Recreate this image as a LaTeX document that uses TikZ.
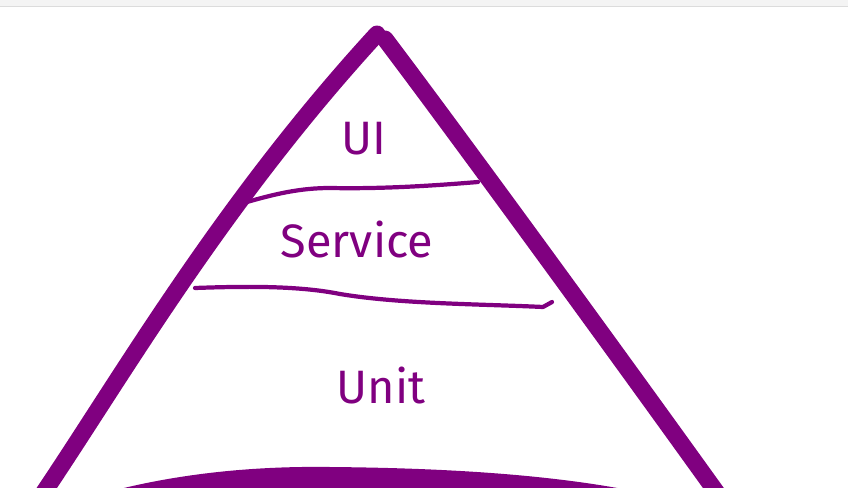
\documentclass[tikz,border=0pt]{standalone}
\usepackage{fontspec}
\setmainfont{Fira Sans}
\usetikzlibrary{positioning}
\definecolor{pyr}{HTML}{800080}
\definecolor{barfill}{HTML}{F4F4F4}
\definecolor{barline}{HTML}{DCDCDC}

\begin{document}
\begin{tikzpicture}[
    x = 0.03cm, y = -0.03cm,
    side/.style  = {draw=pyr, line width=14.5pt, line cap=round},
    layer/.style = {draw=pyr, line width=3.6pt, line cap=round, line join=round},
    lbl/.style   = {text=pyr, anchor=base, inner sep=0pt,
                    font=\fontsize{40}{44}\selectfont},
]
\useasboundingbox (0,0) rectangle (848,488);
\clip (0,0) rectangle (848,488);

% top strip
\fill[barfill] (0,0) rectangle (848,6);
\draw[barline] (0,6) -- (848,6);

% pyramid sides
\coordinate (apexl) at (377,34);
\coordinate (apexr) at (385,39);
\draw[side] (40,498) .. controls (120,380) and (220,205) .. (apexl);
\draw[side] (apexr) .. controls (450,125) and (600,330) .. (722,500);

% base
\fill[pyr] (80,500) .. controls (170,472) and (260,466) .. (330,467)
           .. controls (450,468) and (560,475) .. (648,494) -- (648,500) -- cycle;

% layer lines
\draw[layer] (247,202) .. controls (275,194) and (300,188) .. (330,188)
             .. controls (380,189) and (430,186) .. (478,182);
\draw[layer] (195,288) .. controls (250,286) and (300,286) .. (340,294)
             .. controls (400,304) and (480,304) .. (543,307) -- (552,302);

% labels
\node[lbl] (ui)      at (364,155) {UI};
\node[lbl] (service) at (357,257) {Service};
\node[lbl] (unit)    at (381,403) {Unit};

\end{tikzpicture}
\end{document}
